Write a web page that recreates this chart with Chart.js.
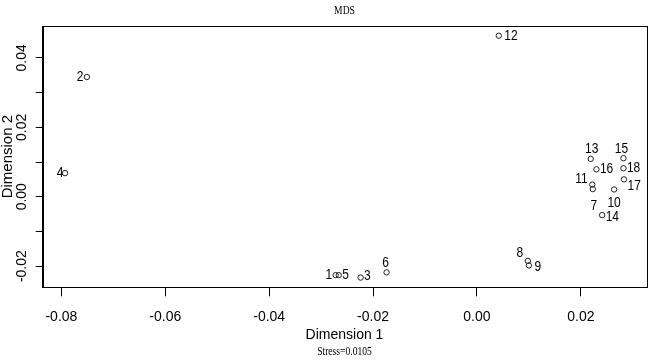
<!DOCTYPE html>
<html lang="en">
<head>
    <meta charset="UTF-8">
    <title>MDS</title>
    <script src="https://cdn.jsdelivr.net/npm/chart.js"></script>
    <style>
        body { margin: 0; background: #fff; }
        #wrap { width: 650px; height: 361px; }
    </style>
</head>
<body>
    <div id="wrap"><canvas id="mds"></canvas></div>
    <script>
        // Sample ids and their MDS coordinates
        const ids  = ['1', '2', '3', '4', '5', '6', '7', '8', '9', '10', '11', '12', '13', '14', '15', '16', '17', '18'];
        const dim1 = [-0.0272, -0.0751, -0.0224, -0.0793, -0.0266, -0.0174, 0.0223, 0.0098, 0.0100, 0.0264, 0.0222, 0.0042, 0.0219, 0.0241, 0.0282, 0.0230, 0.0283, 0.0282];
        const dim2 = [-0.0226, 0.0345, -0.0233, 0.0068, -0.0226, -0.0218, 0.0022, -0.0185, -0.0198, 0.0021, 0.0035, 0.0464, 0.0109, -0.0053, 0.0111, 0.0079, 0.0050, 0.0082];

        // Axis ticks
        const xTicks = [-0.08, -0.06, -0.04, -0.02, 0.00, 0.02];
        const yTicks = [-0.02, -0.01, 0.00, 0.01, 0.02, 0.03, 0.04];
        const yLabelled = [-0.02, 0.00, 0.02, 0.04];

        const stressText = 'Stress=0.0105';

        // where each label sits relative to its point: side, extra dx, extra dy
        const labelPlace = [
            ['l', 0, 0], ['l', 0, 0], ['r', 0, -2], ['l', 2, 0], ['r', 0, 0], ['a', -1, 0],
            ['b', 1, 5], ['a', -8, 2], ['r', 2, 1], ['b', 0, 1], ['l', -1, -6], ['r', 2, 0],
            ['a', 1, 0], ['r', 0, 2], ['a', -2, 0], ['r', 0, 0], ['r', 0, 6], ['r', 0, 0]
        ];

        const sans = "'Liberation Sans', Arial, sans-serif";
        const serif = "'Liberation Serif', 'Times New Roman', serif";
        const squeeze = 0.8; // R output was narrowed horizontally

        const points = dim1.map((x, i) => ({ x: x, y: dim2[i] }));

        function narrowText(ctx, text, x, y) {
            ctx.save();
            ctx.translate(x, y);
            ctx.scale(squeeze, 1);
            ctx.fillText(text, 0, 0);
            ctx.restore();
        }

        const mdsText = {
            id: 'mdsText',
            afterDatasetsDraw(chart) {
                const ctx = chart.ctx;
                const a = chart.chartArea;
                const meta = chart.getDatasetMeta(0);
                const r = 2.5;
                ctx.save();
                ctx.fillStyle = '#000';
                ctx.font = '15px ' + sans;
                meta.data.forEach((pt, i) => {
                    const [side, dx, dy] = labelPlace[i];
                    let x = pt.x + dx, y = pt.y + dy;
                    if (side === 'l') { ctx.textAlign = 'right'; ctx.textBaseline = 'middle'; x -= r + 1; }
                    else if (side === 'r') { ctx.textAlign = 'left'; ctx.textBaseline = 'middle'; x += r + 1; }
                    else if (side === 'a') { ctx.textAlign = 'center'; ctx.textBaseline = 'alphabetic'; y -= r + 3; }
                    else { ctx.textAlign = 'center'; ctx.textBaseline = 'top'; y += r + 2; }
                    narrowText(ctx, ids[i], x, y);
                });

                // plot box
                ctx.strokeStyle = '#000';
                ctx.lineWidth = 1;
                ctx.strokeRect(Math.round(a.left) + 0.5, Math.round(a.top) + 0.5,
                    Math.round(a.right - a.left), Math.round(a.bottom - a.top));

                // main title and stress note, centred on the plot region
                const cx = (a.left + a.right) / 2;
                ctx.textAlign = 'center';
                ctx.textBaseline = 'middle';
                ctx.font = '12px ' + serif;
                narrowText(ctx, 'MDS', cx, 11);
                narrowText(ctx, stressText, cx, 352);
                ctx.restore();
            }
        };

        new Chart(document.getElementById('mds'), {
            type: 'scatter',
            data: {
                datasets: [{
                    label: 'MDS',
                    data: points,
                    pointStyle: 'circle',
                    pointRadius: 2.7,
                    pointHoverRadius: 2.7,
                    borderWidth: 1,
                    borderColor: '#222',
                    backgroundColor: 'rgba(0,0,0,0)'
                }]
            },
            options: {
                responsive: true,
                maintainAspectRatio: false,
                animation: false,
                events: [],
                layout: { padding: { top: 26, right: 3.6, left: 0, bottom: 0 } },
                plugins: {
                    legend: { display: false },
                    tooltip: { enabled: false },
                    title: { display: false }
                },
                scales: {
                    x: {
                        type: 'linear',
                        min: -0.0836,
                        max: 0.0326,
                        afterBuildTicks: s => { s.ticks = xTicks.map(v => ({ value: v })); },
                        afterFit: s => { s.height = 73.7; },
                        grid: { drawOnChartArea: false, drawTicks: true, tickLength: 9, color: '#000', lineWidth: 1 },
                        border: { display: true, color: '#000', width: 1 },
                        ticks: {
                            callback: v => v.toFixed(2),
                            font: { family: sans, size: 14 },
                            color: '#000',
                            padding: 12,
                            maxRotation: 0,
                            autoSkip: false
                        },
                        title: {
                            display: true,
                            text: 'Dimension 1',
                            color: '#000',
                            font: { family: sans, size: 14, lineHeight: 1.2 },
                            padding: { top: 0, bottom: 17 }
                        }
                    },
                    y: {
                        type: 'linear',
                        min: -0.0261,
                        max: 0.0492,
                        afterBuildTicks: s => { s.ticks = yTicks.map(v => ({ value: v })); },
                        afterFit: s => { s.width = 42.7; },
                        grid: { drawOnChartArea: false, drawTicks: true, tickLength: 7, color: '#000', lineWidth: 1 },
                        border: { display: true, color: '#000', width: 1 },
                        ticks: {
                            callback: v => yLabelled.some(t => Math.abs(t - v) < 1e-9) ? v.toFixed(2) : '',
                            font: { family: sans, size: 14 },
                            color: '#000',
                            minRotation: 90,
                            maxRotation: 90,
                            crossAlign: 'center',
                            padding: -2,
                            autoSkip: false
                        },
                        title: {
                            display: true,
                            text: 'Dimension 2',
                            color: '#000',
                            font: { family: sans, size: 15, lineHeight: 1 },
                            padding: 0
                        }
                    }
                }
            },
            plugins: [mdsText]
        });
    </script>
</body>
</html>
